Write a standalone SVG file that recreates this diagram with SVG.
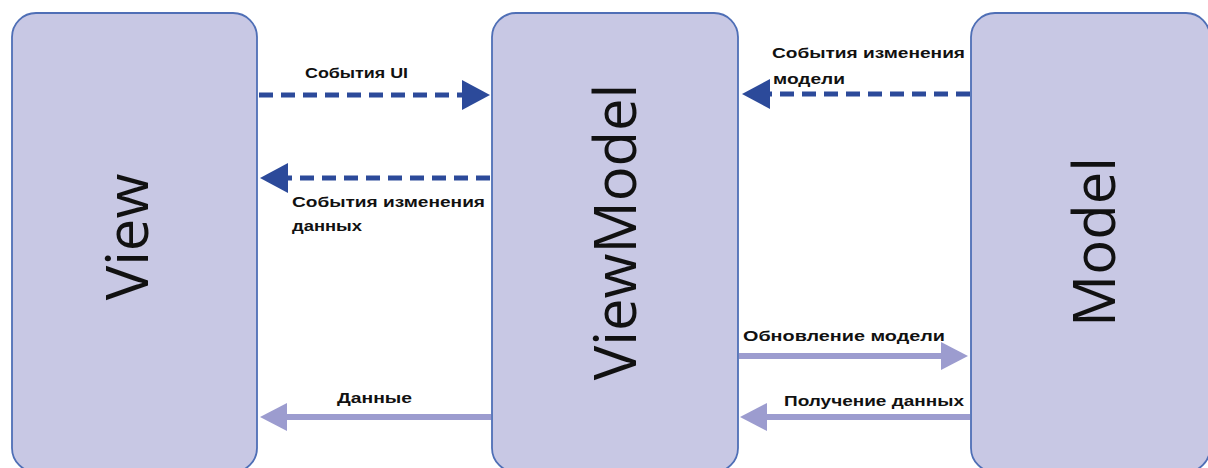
<svg xmlns="http://www.w3.org/2000/svg" width="1208" height="468" viewBox="0 0 1208 468">
<style>
.box{fill:#c8c8e4;stroke:#4f6fb6;stroke-width:1.8}
.big{font-family:"Open Sans","DejaVu Sans",sans-serif;font-size:58px;fill:#111;text-anchor:middle}
.lbl{font-family:"Liberation Sans",Arial,sans-serif;font-weight:bold;font-size:15.5px;fill:#111}
.dash{fill:none;stroke:#2c4a9a;stroke-width:5;stroke-dasharray:14 8}
.solid{fill:none;stroke:#9c9ccf;stroke-width:6}
</style>
<defs>
<marker id="hd" viewBox="0 0 28 30" refX="0" refY="15" markerWidth="28" markerHeight="30" markerUnits="userSpaceOnUse" orient="auto"><path d="M0,0 L28,15 L0,30 Z" fill="#2c4a9a"/></marker>
<marker id="hl" viewBox="0 0 27 28" refX="0" refY="14" markerWidth="27" markerHeight="28" markerUnits="userSpaceOnUse" orient="auto"><path d="M0,0 L27,14 L0,28 Z" fill="#9c9ccf"/></marker>
</defs>
<g id="view"><rect class="box" x="12" y="13" width="245" height="459" rx="24"/><text class="big" transform="translate(148,237) rotate(-90)">View</text></g>
<g id="viewmodel"><rect class="box" x="492" y="13" width="246" height="459" rx="24"/><text class="big" transform="translate(636,232) rotate(-90)">ViewModel</text></g>
<g id="model"><rect class="box" x="971" y="13" width="239" height="459" rx="24"/><text class="big" transform="translate(1115,242) rotate(-90)">Model</text></g>
<g id="connectors">
<path class="dash" d="M259,95 L462,95" marker-end="url(#hd)"/>
<path class="dash" d="M490,178 L288,178" marker-end="url(#hd)"/>
<path class="dash" d="M970,94 L770,94" marker-end="url(#hd)"/>
<path class="solid" d="M739,356 L941,356" marker-end="url(#hl)"/>
<path class="solid" d="M970,417 L767,417" marker-end="url(#hl)"/>
<path class="solid" d="M491,417 L287,417" marker-end="url(#hl)"/>
<text class="lbl" x="305" y="78" textLength="103" lengthAdjust="spacingAndGlyphs">События UI</text>
<text class="lbl" x="292" y="207" textLength="193" lengthAdjust="spacingAndGlyphs">События изменения</text>
<text class="lbl" x="292" y="231" textLength="70" lengthAdjust="spacingAndGlyphs">данных</text>
<text class="lbl" x="772" y="58" textLength="193" lengthAdjust="spacingAndGlyphs">События изменения</text>
<text class="lbl" x="773" y="84" textLength="72" lengthAdjust="spacingAndGlyphs">модели</text>
<text class="lbl" x="743" y="341" textLength="202" lengthAdjust="spacingAndGlyphs">Обновление модели</text>
<text class="lbl" x="784" y="406" textLength="180" lengthAdjust="spacingAndGlyphs">Получение данных</text>
<text class="lbl" x="337" y="403" textLength="75" lengthAdjust="spacingAndGlyphs">Данные</text>
</g>
</svg>
